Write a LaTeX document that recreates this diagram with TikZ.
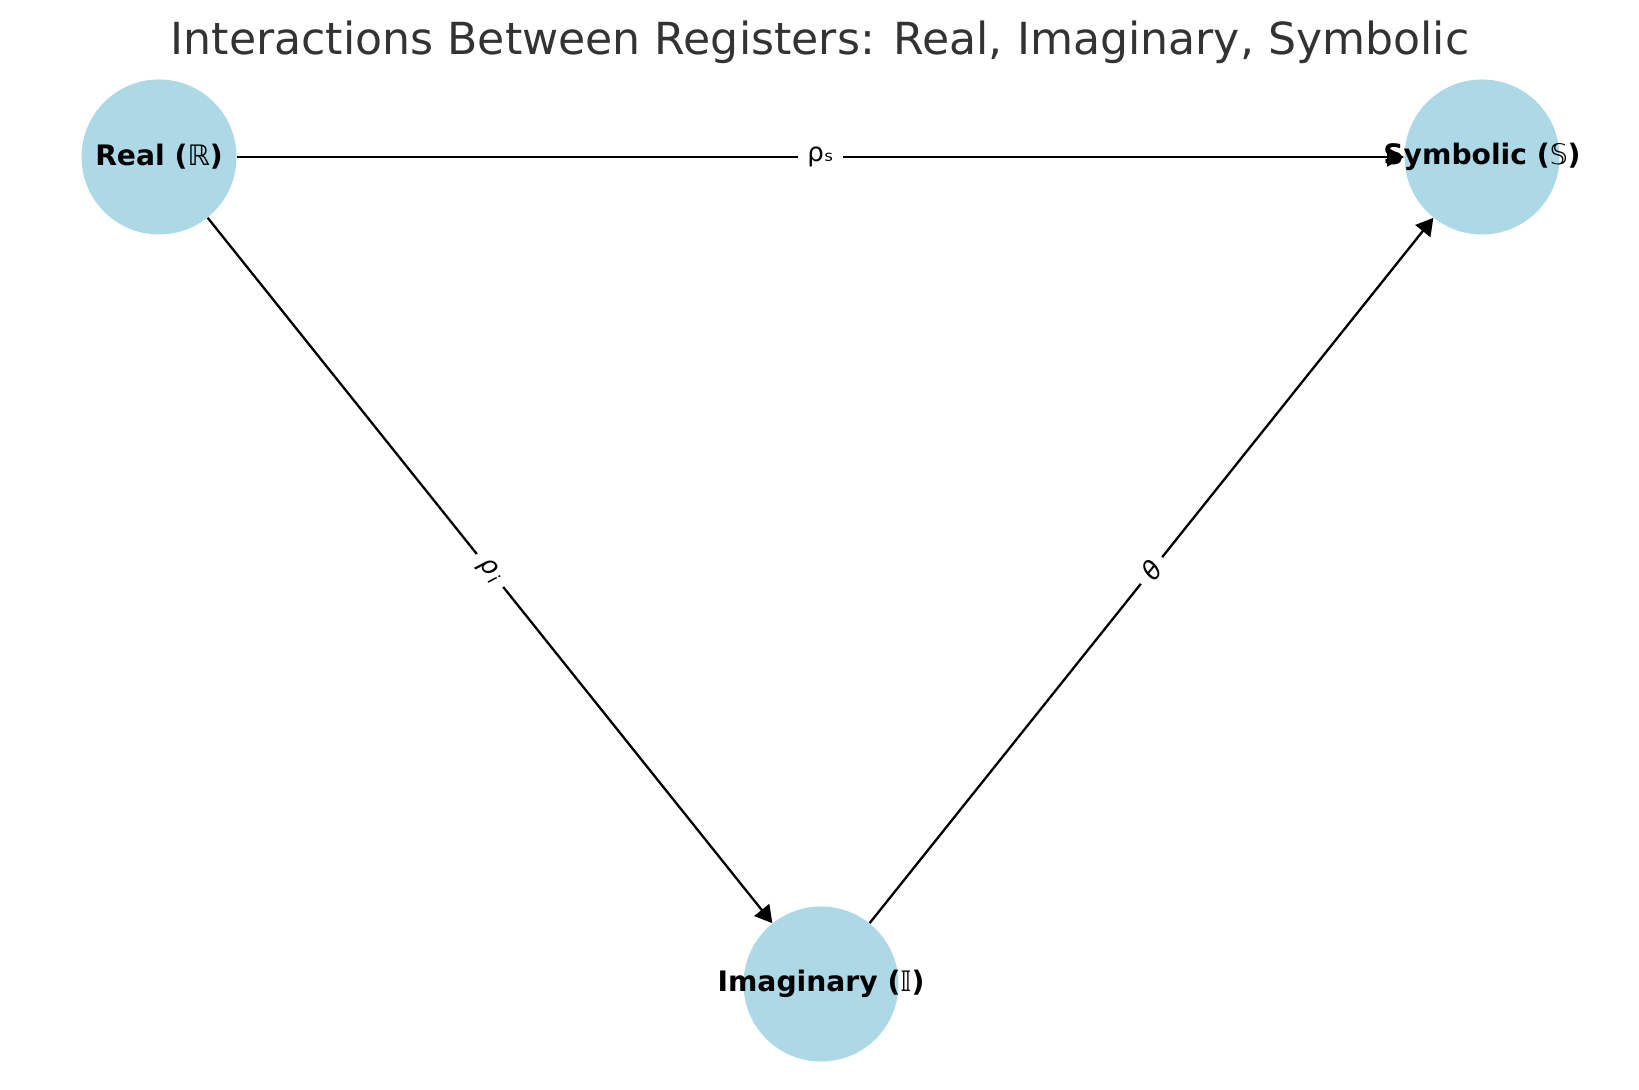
\documentclass[tikz,border=0pt]{standalone}
\usepackage{fontspec}
\setmainfont{DejaVu Sans}
\newfontfamily\dsfont{DejaVu Sans}
\usetikzlibrary{arrows.meta}
\definecolor{regblue}{HTML}{ADD8E6}
\definecolor{titlegray}{HTML}{333333}
\def\lowsub#1{\kern1.2pt\raisebox{-0.3ex}{\fontsize{9pt}{9pt}\selectfont #1}}
\def\dbl#1{{\dsfont\mdseries #1}}
\tikzset{
  register/.style={circle, fill=regblue, minimum size=77.5pt, inner sep=0pt,
    label={[font=\fontsize{14.1pt}{17pt}\selectfont\bfseries]center:#1}},
  link/.style={line width=1.15pt, -{Triangle[length=8.5pt,width=9.5pt]}},
  linklabel/.style={fill=white, inner sep=4.5pt, font=\fontsize{13pt}{15pt}\selectfont},
}

\begin{document}
\begin{tikzpicture}[x=0.5pt, y=0.5pt]
			%%%%% START %%%%%
			\useasboundingbox (0, 0) rectangle (1639, 1090);
			
			\node[anchor=base, text=titlegray, font=\fontsize{22.1pt}{27pt}\selectfont] (title) at (820, 1035) {Interactions Between Registers: Real, Imaginary, Symbolic};
			
			\node[register={Real (\dbl{ℝ})}] (real) at (159, 933) {};
			\node[register={Symbolic (\dbl{𝕊})}] (symbolic) at (1482, 933) {};
			\node[register={Imaginary (\dbl{𝕀})}] (imaginary) at (821, 106) {};
			
			\draw[link] (real) -- node[linklabel] {ρₛ} (symbolic);
			\draw[link] (real) -- node[linklabel, sloped] {\itshape ρ\lowsub{i}} (imaginary);
			\draw[link] (imaginary) -- node[linklabel, sloped] {\itshape θ} (symbolic);
			%%%%% END %%%%%
\end{tikzpicture}
\end{document}
